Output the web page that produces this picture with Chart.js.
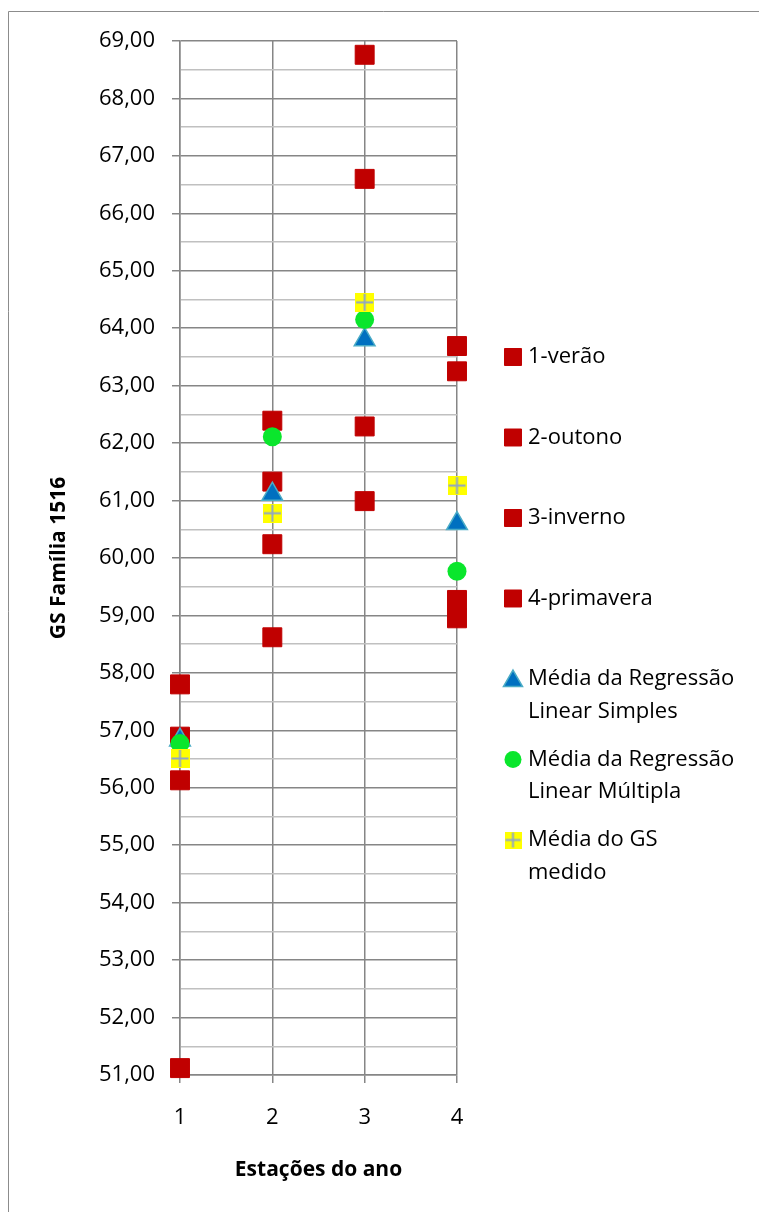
<!DOCTYPE html>
<html>
<head>
<meta charset="utf-8">
<script src="https://cdn.jsdelivr.net/npm/chart.js@4.4.0/dist/chart.umd.min.js"></script>
<style>
  html, body { margin: 0; padding: 0; background: #fff; }
  canvas { display: block; }
</style>
</head>
<body>
<canvas id="c" width="759" height="1212"></canvas>
<script>
// --- data ---
const seasons = [1, 2, 3, 4];
const seasonNames = ['1-verão', '2-outono', '3-inverno', '4-primavera'];
const verao     = [57.80, 56.89, 56.13, 51.12];
const outono    = [62.39, 61.33, 60.24, 58.62];
const inverno   = [68.76, 66.60, 62.29, 60.99];
const primavera = [63.69, 63.25, 59.27, 58.95];
const mediaRLS  = [56.83, 61.11, 63.80, 60.60];
const mediaRLM  = [56.77, 62.11, 64.15, 59.77];
const mediaGS   = [56.51, 60.78, 64.45, 61.26];
const meanNames = [
    ['Média da Regressão', 'Linear Simples'],
    ['Média da Regressão', 'Linear Múltipla'],
    ['Média do GS', 'medido']
];
const xTitle = 'Estações do ano';
const yTitle = 'GS Família 1516';
const yTicks = [51, 69, 0.5];

const FONT = '"Open Sans", "Noto Sans", sans-serif';
const GRID = '#868686';
const MINOR = '#c0c0c0';

// yellow square with a grey-blue plus, as Excel draws it
function crossMarker(size) {
    const cv = document.createElement('canvas');
    cv.width = size; cv.height = size;
    const g = cv.getContext('2d');
    g.fillStyle = '#FFFF00';
    g.fillRect(0, 0, size, size);
    g.strokeStyle = '#8FA6C6';
    g.lineWidth = 2;
    g.beginPath();
    g.moveTo(size / 2, 1); g.lineTo(size / 2, size - 1);
    g.moveTo(1, size / 2); g.lineTo(size - 1, size / 2);
    g.stroke();
    return cv;
}
const crossBig = crossMarker(19);
const crossSmall = crossMarker(17);

const seasonValues = [verao, outono, inverno, primavera];
const datasets = [];
seasonValues.forEach((vals, i) => {
    datasets.push({
        label: seasonNames[i],
        data: vals.map(v => ({ x: seasons[i], y: v })),
        pointStyle: 'rect',
        pointRadius: 13.4,
        backgroundColor: '#C00000',
        borderColor: '#C00000',
        borderWidth: 1,
        clip: false,
        order: 10 - i,
        legendRadius: 12
    });
});
datasets.push({
    label: meanNames[0],
    data: mediaRLS.map((v, i) => ({ x: seasons[i], y: v })),
    pointStyle: 'triangle',
    pointRadius: 12,
    backgroundColor: '#0070C0',
    borderColor: '#4BACC6',
    borderWidth: 1.5,
    clip: false,
    order: 3,
    legendRadius: 11
});
datasets.push({
    label: meanNames[1],
    data: mediaRLM.map((v, i) => ({ x: seasons[i], y: v })),
    pointStyle: 'circle',
    pointRadius: 9.5,
    backgroundColor: '#0AE62C',
    borderColor: '#0AE62C',
    borderWidth: 0,
    clip: false,
    order: 2,
    legendRadius: 8.5
});
datasets.push({
    label: meanNames[2],
    data: mediaGS.map((v, i) => ({ x: seasons[i], y: v })),
    pointStyle: crossBig,
    legendImage: crossSmall,
    pointRadius: 9.5,
    backgroundColor: '#FFFF00',
    borderColor: '#8FA6C6',
    borderWidth: 0,
    clip: false,
    order: 1,
    legendRadius: 8.5
});

const frame = {
    id: 'frame',
    beforeDraw(chart) {
        const ctx = chart.ctx;
        ctx.save();
        ctx.fillStyle = '#fff';
        ctx.fillRect(0, 0, chart.width, chart.height);
        ctx.strokeStyle = '#8c8c8c';
        ctx.lineWidth = 1;
        ctx.beginPath();
        ctx.moveTo(8.5, chart.height);
        ctx.lineTo(8.5, 11.5);
        ctx.lineTo(chart.width, 11.5);
        ctx.stroke();
        ctx.restore();
    }
};

const sideLegend = {
    id: 'sideLegend',
    afterDraw(chart) {
        const ctx = chart.ctx;
        ctx.save();
        ctx.font = '22px ' + FONT;
        ctx.textBaseline = 'middle';
        ctx.fillStyle = '#000';
        const mx = 513, tx = 528, y0 = 357, step = 80.5, lh = 32.4;
        chart.data.datasets.forEach((ds, i) => {
            const y = y0 + i * step;
            if (ds.legendImage) {
                ctx.drawImage(ds.legendImage, mx - 8.5, y - 8.5);
            } else {
                ctx.fillStyle = ds.backgroundColor;
                ctx.strokeStyle = ds.borderColor;
                ctx.lineWidth = ds.borderWidth;
                Chart.helpers.drawPoint(ctx, {
                    pointStyle: ds.pointStyle,
                    radius: ds.legendRadius,
                    rotation: 0,
                    borderWidth: ds.borderWidth
                }, mx, ds.pointStyle === 'triangle' ? y + 2 : y);
            }
            ctx.fillStyle = '#000';
            const lines = Array.isArray(ds.label) ? ds.label : [ds.label];
            lines.forEach((t, k) => ctx.fillText(t, tx, y + k * lh));
        });
        ctx.restore();
    }
};

const isInt = v => Math.abs(v - Math.round(v)) < 1e-6;

new Chart(document.getElementById('c'), {
    type: 'scatter',
    data: { datasets },
    plugins: [frame, sideLegend],
    options: {
        responsive: false,
        animation: false,
        layout: { padding: { left: 0, top: 41, right: 302, bottom: 0 } },
        plugins: {
            legend: { display: false },
            tooltip: { enabled: false }
        },
        scales: {
            x: {
                type: 'linear',
                min: seasons[0],
                max: seasons[seasons.length - 1],
                ticks: { stepSize: 1, color: '#000', font: { family: FONT, size: 22 }, padding: 22 },
                grid: { color: GRID, lineWidth: 1.5, tickLength: 8, tickColor: GRID },
                border: { color: GRID, width: 1.5 },
                title: {
                    display: true, text: xTitle, color: '#000',
                    font: { family: FONT, size: 21, weight: 'bold' },
                    padding: { top: 0, bottom: 29 }
                },
                afterFit(s) { s.height = 137; }
            },
            y: {
                min: yTicks[0],
                max: yTicks[1],
                ticks: {
                    stepSize: yTicks[2],
                    autoSkip: false,
                    color: '#000',
                    font: { family: FONT, size: 22 },
                    padding: 17,
                    callback: v => isInt(v) ? v.toFixed(2).replace('.', ',') : ''
                },
                grid: {
                    color: c => isInt(c.tick.value) ? GRID : MINOR,
                    lineWidth: 1.5,
                    tickLength: 8,
                    tickColor: c => isInt(c.tick.value) ? GRID : 'rgba(0,0,0,0)'
                },
                border: { color: GRID, width: 1.5 },
                title: {
                    display: true, text: yTitle, color: '#000',
                    font: { family: FONT, size: 21, weight: 'bold' },
                    padding: { top: 46, bottom: 0 }
                },
                afterFit(s) { s.width = 180; }
            }
        }
    }
});
</script>
</body>
</html>
